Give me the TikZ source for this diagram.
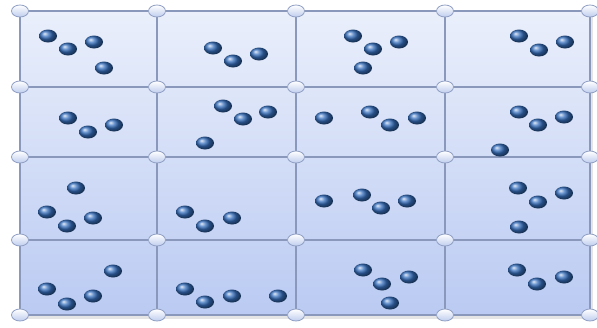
\documentclass[tikz,border=0pt]{standalone}
\usetikzlibrary{shapes.geometric}
\definecolor{gridline}{RGB}{138,152,188}
\definecolor{celltop}{RGB}{234,239,251}
\definecolor{cellbot}{RGB}{186,202,242}
\definecolor{vtxblue}{RGB}{190,204,238}
\definecolor{vtxline}{RGB}{145,160,196}
\definecolor{ballblue}{RGB}{55,112,190}
\begin{document}
\begin{tikzpicture}[x=1pt,y=-1pt,
  vtx/.style={ellipse, draw=vtxline, line width=0.8pt, minimum width=17pt, minimum height=12pt, inner sep=0pt, top color=white, bottom color=vtxblue},
  ball/.style={ellipse, minimum width=18pt, minimum height=13pt, inner sep=0pt, shading=ball, ball color=ballblue},
  gline/.style={draw=gridline, line width=1.2pt}]
\useasboundingbox (0,0) rectangle (597,327);
% shadow and background
\fill[black!10] (22,14) rectangle (593,319);
\fill[top color=celltop, bottom color=cellbot] (20,11) rectangle (590,315);
% vertex coordinates
\foreach \x [count=\i] in {20,157,296,445,590}
  \foreach \y [count=\j] in {11,87,157,240,315}
    \coordinate (c\i\j) at (\x,\y);
% grid lines
\foreach \j in {1,2,3,4,5}
  \foreach \a/\b in {1/2,2/3,3/4,4/5}
    \draw[gline] (c\a\j) -- (c\b\j);
\foreach \i in {1,2,3,4,5}
  \foreach \a/\b in {1/2,2/3,3/4,4/5}
    \draw[gline] (c\i\a) -- (c\i\b);
% vertex nodes
\foreach \i in {1,...,5}
  \foreach \j in {1,...,5}
    \node[vtx] (v\i\j) at (c\i\j) {};
% balls
\foreach \p [count=\n] in {
  (48,36),(68,49),(94,42),(104,68),
  (213,48),(233,61),(259,54),
  (353,36),(373,49),(399,42),(363,68),
  (519,36),(539,50),(565,42),
  (68,118),(88,132),(114,125),
  (223,106),(243,119),(268,112),(205,143),
  (324,118),(370,112),(390,125),(417,118),
  (519,112),(538,125),(564,117),(500,150),
  (76,188),(47,212),(67,226),(93,218),
  (185,212),(205,226),(232,218),
  (324,201),(362,195),(381,208),(407,201),
  (518,188),(538,202),(564,193),(519,227),
  (113,271),(47,289),(67,304),(93,296),
  (185,289),(205,302),(232,296),(278,296),
  (363,270),(382,284),(409,277),(390,303),
  (517,270),(537,284),(564,277)}
  \node[ball] (b\n) at \p {};
\end{tikzpicture}
\end{document}
